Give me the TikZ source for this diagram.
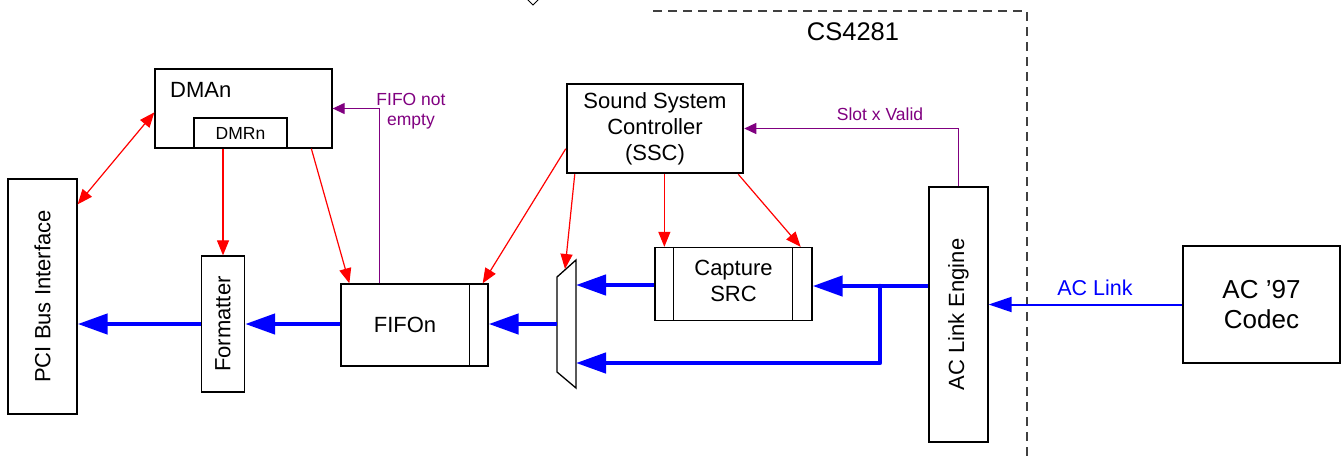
\documentclass[tikz,border=0pt]{standalone}
\usepackage{fontspec}
\setmainfont{Liberation Sans}
\usetikzlibrary{arrows.meta,calc}
\definecolor{sigpurple}{RGB}{128,0,128}
\begin{document}
\begin{tikzpicture}[x=1pt,y=-1pt,
  box/.style={draw,line width=1.3pt,inner sep=0pt,align=center,font=\fontsize{22}{26}\selectfont},
  txt/.style={inner sep=0pt,align=center,font=\fontsize{22}{26}\selectfont},
  smalltxt/.style={inner sep=0pt,align=center,font=\fontsize{17.5}{20}\selectfont},
  redarr/.style={draw=red,line width=1.2pt,-{Triangle[length=15pt,width=12pt]}},
  redboth/.style={draw=red,line width=1.2pt,{Triangle[length=15pt,width=12pt]}-{Triangle[length=15pt,width=12pt]}},
  purarr/.style={draw=sigpurple,line width=1.2pt,-{Triangle[length=12pt,width=11pt]}},
  busarr/.style={draw=blue,line width=4.5pt,-{Triangle[length=30pt,width=20pt]}},
  busline/.style={draw=blue,line width=4.5pt},
  linkarr/.style={draw=blue,line width=2pt,-{Triangle[length=23pt,width=15pt]}},
  chipedge/.style={draw=black!75,line width=1.5pt,dash pattern=on 9pt off 6pt}
]
\useasboundingbox (0,0) rectangle (1341,459);

% small marker at top
\draw[line width=1pt] (528,0) -- (533,5) -- (538,0) -- (533,-5) -- cycle;

% chip boundary
\coordinate (cbA) at (653,11);
\coordinate (cbB) at (1027,11);
\coordinate (cbC) at (1027,465);
\draw[chipedge] (cbA) -- (cbB) -- (cbC);
\node[txt,font=\fontsize{25.5}{28}\selectfont] (chip) at (853,32) {CS4281};

% blocks
\node[box,minimum width=177pt,minimum height=79pt] (dma) at (243.5,108.5) {};
\node[txt,anchor=base west] (dmalbl) at (170,97) {DMAn};
\node[box,minimum width=93pt,minimum height=30pt,font=\fontsize{17.5}{20}\selectfont] (dmr) at (240.5,133) {DMRn};
\node[box,minimum width=69pt,minimum height=235pt] (pci) at (42.5,296.5) {\rotatebox{90}{PCI Bus Interface}};
\node[box,minimum width=43pt,minimum height=136pt] (fmt) at (223,324) {\rotatebox{90}{Formatter}};
\node[box,minimum width=147pt,minimum height=82pt] (fifo) at (414.5,325) {};
\draw[line width=1.3pt] ($(fifo.north east)+(-19,0)$) -- ($(fifo.south east)+(-19,0)$);
\node[txt] (fifotxt) at ($(fifo.center)+(-9.5,0)$) {FIFOn};
\node[box,line width=2.5pt,minimum width=176pt,minimum height=89pt] (ssc) at (655,128.5) {Sound System\\Controller\\(SSC)};
\node[box,minimum width=157pt,minimum height=73pt] (cap) at (733.5,284) {};
\draw[line width=1.3pt] ($(cap.north west)+(19,0)$) -- ($(cap.south west)+(19,0)$);
\draw[line width=1.3pt] ($(cap.north east)+(-20,0)$) -- ($(cap.south east)+(-20,0)$);
\node[txt] (captxt) at ($(cap.center)+(0,-3)$) {Capture\\SRC};
\node[box,minimum width=59pt,minimum height=255pt] (ace) at (958.5,314.5) {\rotatebox{90}{AC Link Engine}};
\node[box,minimum width=157pt,minimum height=117pt,font=\fontsize{26}{30}\selectfont] (codec) at (1261.5,304.5) {AC ’97\\Codec};

% multiplexer
\coordinate (muxA) at (557,277);
\coordinate (muxB) at (576,260);
\coordinate (muxC) at (576,388);
\coordinate (muxD) at (557,372);
\draw[line width=1.3pt,fill=white] (muxA) -- (muxB) -- (muxC) -- (muxD) -- cycle;
\coordinate (muxout) at (557,324);
\coordinate (muxin1) at (576,285);
\coordinate (muxin2) at (576,363);
\coordinate (muxtop) at (565,269);

% data buses
\draw[busarr] (fmt.west |- pci.east) ++(0,27.5) coordinate (fmtout) -- (pci.east |- fmtout);
\draw[busarr] (fifo.west |- fmt.east) -- (fmt.east);
\draw[busarr] (muxout) -- (fifo.east |- muxout);
\draw[busarr] (cap.west |- muxin1) -- (muxin1);
\coordinate (junc) at (880,286);
\draw[busarr] (ace.west |- junc) -- (cap.east |- junc);
\draw[busline,line cap=round,line join=round] (junc) -- (880,363) coordinate (jd) -- ($(jd)+(-40,0)$);
\draw[busarr] (jd) -- (muxin2);
\draw[linkarr] (codec.west) -- (ace.east |- codec.west);
\node[font=\fontsize{21.5}{24}\selectfont,text=blue,inner sep=0pt] (linklbl) at (1095,288) {AC Link};

% control (red)
\draw[redboth] ($(dma.north west)+(0,44)$) -- ($(pci.north east)+(0,26)$);
\draw[redarr] (fmt.north |- dmr.south) -- (fmt.north);
\draw[redarr] ($(dma.south west)+(157,0)$) -- ($(fifo.north west)+(9,0)$);
\draw[redarr] ($(ssc.north west)+(0,66)$) -- ($(fifo.north east)+(-6,0)$);
\draw[redarr] ($(ssc.south west)+(9,0)$) -- (muxtop);
\draw[redarr] ($(cap.north west)+(10,0)$) ++(0,-73) coordinate (sscA) -- ($(cap.north west)+(10,0)$);
\draw[redarr] ($(ssc.south east)+(-6,0)$) -- ($(cap.north east)+(-12,0)$);

% status (purple)
\draw[purarr] ($(fifo.north west)+(39,0)$) |- (dma.east);
\node[smalltxt,text=sigpurple] (fnelbl) at (411,111) {FIFO not\\empty};
\draw[purarr] (ace.north) |- (ssc.east);
\node[smalltxt,text=sigpurple] (slotlbl) at (880,114) {Slot x Valid};
\end{tikzpicture}
\end{document}
